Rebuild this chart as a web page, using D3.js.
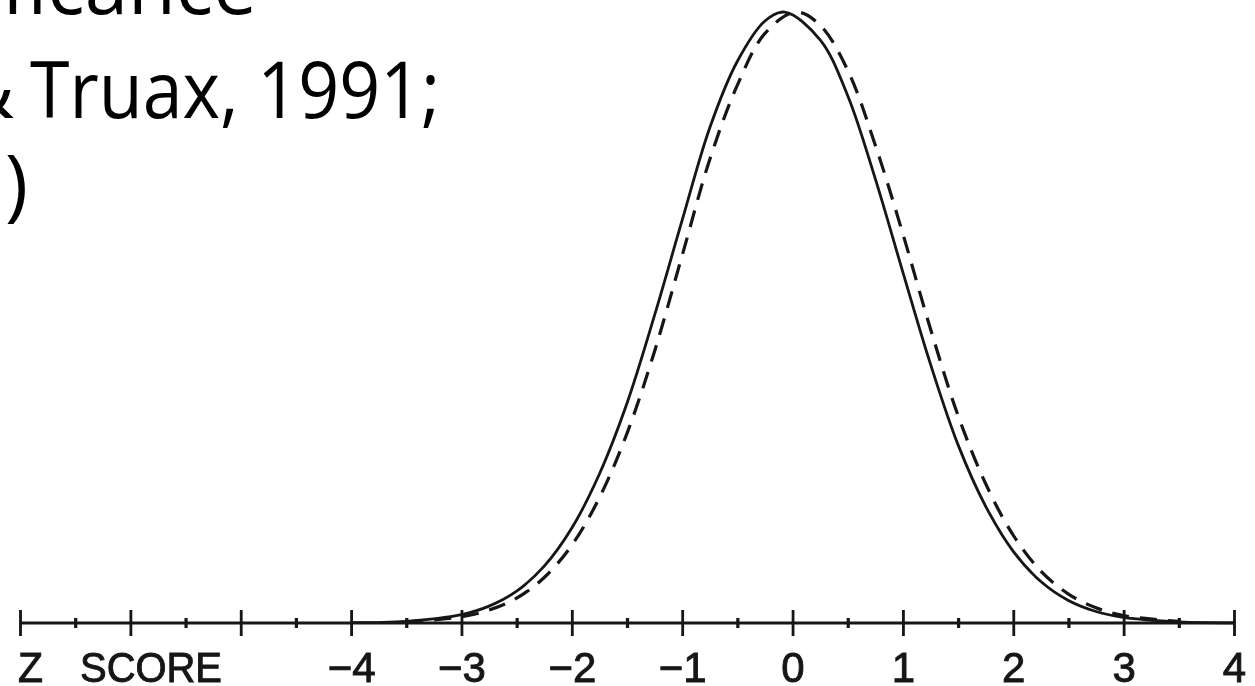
<!DOCTYPE html>
<html>
<head>
<meta charset="utf-8">
<script src="https://cdn.jsdelivr.net/npm/d3@7"></script>
<style>
  html, body { margin: 0; padding: 0; background: #fff; }
  svg { display: block; }
</style>
</head>
<body>
<svg id="chart" width="1255" height="686"></svg>
<script>
// ---- data ----
const zGrid = [-4.0, -3.5, -3.0, -2.75, -2.5, -2.25, -2.0, -1.75, -1.5, -1.25, -1.0, -0.75, -0.5, -0.25, -0.07, 0.25, 0.5, 0.75, 1.0, 1.25, 1.5, 1.75, 2.0, 2.25, 2.5, 2.75, 3.0, 3.5, 4.0];
const solidValues = [0.0002, 0.0011, 0.0055, 0.0110, 0.0208, 0.0371, 0.0620, 0.0973, 0.1435, 0.2010, 0.2630, 0.3234, 0.3668, 0.3931, 0.3989, 0.3808, 0.3443, 0.2900, 0.2290, 0.1690, 0.1163, 0.0762, 0.0468, 0.0271, 0.0147, 0.0075, 0.0036, 0.0007, 0.0001];

const zGridDashed = [-3.5, -3.0, -2.75, -2.5, -2.25, -2.0, -1.75, -1.5, -1.25, -1.0, -0.75, -0.5, -0.25, 0.03, 0.25, 0.5, 0.75, 1.0, 1.25, 1.5, 1.75, 2.0, 2.25, 2.5, 2.75, 3.0, 3.5];
const dashedValues = [0.0008, 0.0040, 0.0084, 0.0162, 0.0297, 0.0508, 0.0818, 0.1238, 0.1775, 0.2400, 0.3027, 0.3512, 0.3850, 0.3989, 0.3903, 0.3609, 0.3120, 0.2540, 0.1920, 0.1354, 0.0909, 0.0573, 0.0339, 0.0189, 0.0099, 0.0048, 0.0010];

const majorTicks = [-7, -6, -5, -4, -3, -2, -1, 0, 1, 2, 3, 4];
const tickLabels = ["", "", "", "\u22124", "\u22123", "\u22122", "\u22121", "0", "1", "2", "3", "4"];
const minorTicks = [-6.5, -5.5, -4.5, -3.5, -2.5, -1.5, -0.5, 0.5, 1.5, 2.5, 3.5];
const axisTitle = "Z SCORE";

const slideLines = ["Significance", "&", "Truax, 1991;", ")"];

// ---- drawing ----
const svg = d3.select("#chart");
const ink = "#141414";

const defs = svg.append("defs");
defs.append("filter").attr("id", "scan")
  .append("feGaussianBlur").attr("stdDeviation", 0.45);

const x = d3.scaleLinear().domain([-7, 4]).range([20, 1234]);
const y = d3.scaleLinear().domain([0, 0.4]).range([623, 10.4]);

// slide text fragments (cut off at edges)
const slideFont = "'Open Sans', 'Noto Sans', sans-serif";
const st = svg.append("g").attr("font-family", slideFont).attr("font-size", 78).attr("fill", "#000");
st.append("text").text(slideLines[0])
  .attr("x", 257).attr("y", 14).attr("text-anchor", "end");
st.append("text").text(slideLines[1])
  .attr("x", 14).attr("y", 118).attr("text-anchor", "end");
st.append("text").text(slideLines[2])
  .attr("x", 30).attr("y", 118)
  .attr("textLength", 410).attr("lengthAdjust", "spacingAndGlyphs");
st.append("text").text(slideLines[3])
  .attr("x", 28).attr("y", 212).attr("text-anchor", "end");

const chart = svg.append("g").attr("filter", "url(#scan)");

// axis
const axisY = y(0);
const major = d3.axisBottom(x)
  .tickValues(majorTicks)
  .tickSize(13)
  .tickFormat((d, i) => tickLabels[i]);
const gAxis = chart.append("g").attr("transform", `translate(0,${axisY})`).call(major);
gAxis.select(".domain").attr("d", `M${x(-7)},0H${x(4)}`)
  .attr("stroke", ink).attr("stroke-width", 2.8);
gAxis.selectAll(".tick line").attr("y1", -13).attr("y2", 13)
  .attr("stroke", ink).attr("stroke-width", 2.8);
gAxis.selectAll(".tick text")
  .attr("y", 59).attr("dy", null)
  .attr("font-family", "'Liberation Sans', Arial, sans-serif")
  .attr("font-size", 42).attr("fill", ink)
  .attr("stroke", ink).attr("stroke-width", 0.9);

const minor = d3.axisBottom(x).tickValues(minorTicks).tickSize(5).tickFormat("");
const gMinor = chart.append("g").attr("transform", `translate(0,${axisY})`).call(minor);
gMinor.select(".domain").remove();
gMinor.selectAll(".tick line").attr("y1", -5).attr("y2", 5)
  .attr("stroke", ink).attr("stroke-width", 3.2);

const titleParts = axisTitle.split(" ");
const titleG = chart.append("g")
  .attr("font-family", "'Liberation Sans', Arial, sans-serif")
  .attr("font-size", 42).attr("fill", ink)
  .attr("stroke", ink).attr("stroke-width", 0.9);
titleG.append("text").text(titleParts[0])
  .attr("x", 18).attr("y", 682)
  .attr("textLength", 25).attr("lengthAdjust", "spacingAndGlyphs");
titleG.append("text").text(titleParts[1])
  .attr("x", 80).attr("y", 682)
  .attr("textLength", 142).attr("lengthAdjust", "spacingAndGlyphs");

// curves
const line = d3.line().x(d => x(d[0])).y(d => y(d[1])).curve(d3.curveCatmullRom);

chart.append("path")
  .datum(zGrid.map((z, i) => [z, solidValues[i]]))
  .attr("d", line).attr("fill", "none")
  .attr("stroke", ink).attr("stroke-width", 2.8);

chart.append("path")
  .datum(zGridDashed.map((z, i) => [z, dashedValues[i]]))
  .attr("d", line).attr("fill", "none")
  .attr("stroke", ink).attr("stroke-width", 3.2)
  .attr("stroke-dasharray", "17,11");
</script>
</body>
</html>
